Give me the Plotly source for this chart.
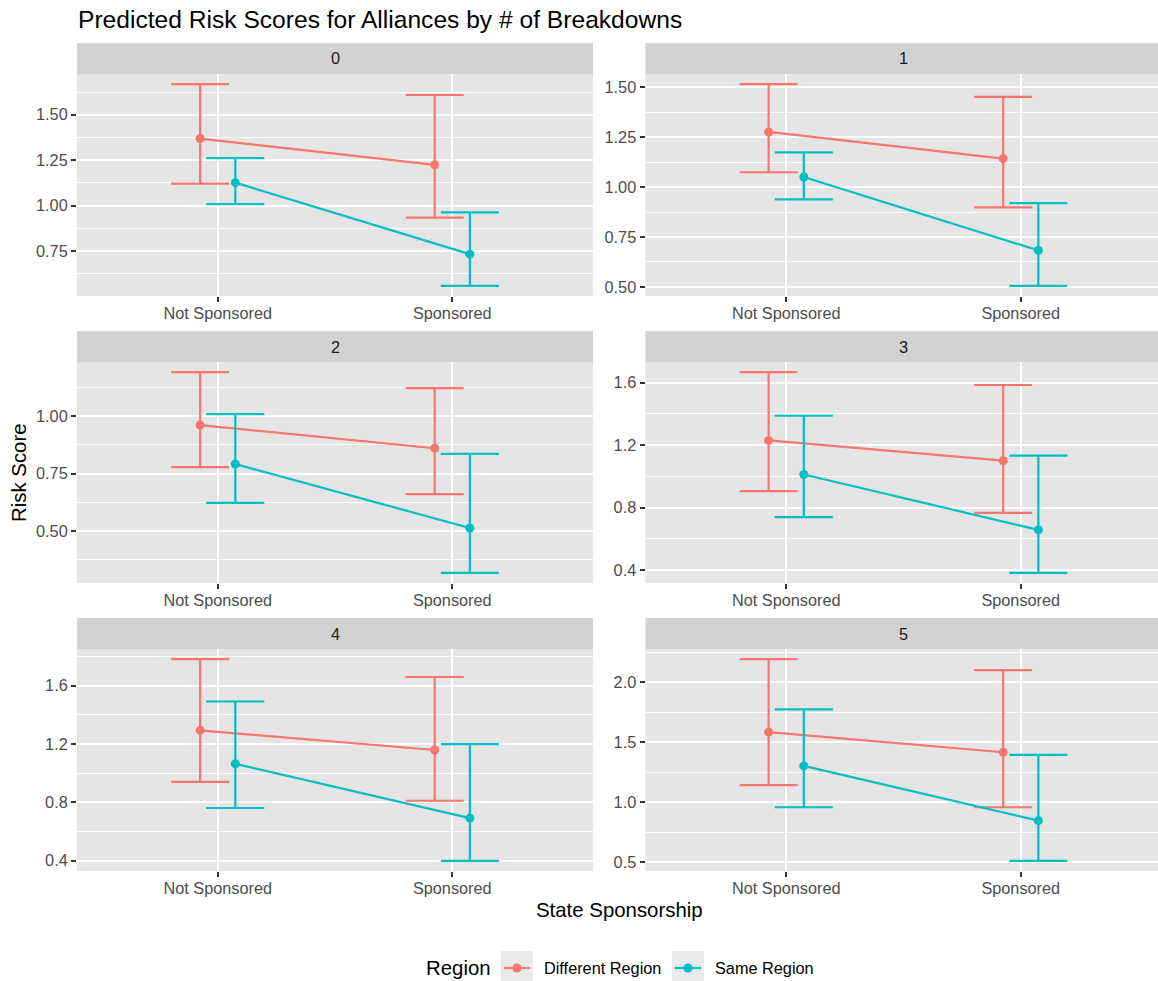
import plotly.graph_objects as go

# ---------------- data ----------------
panels = ["0", "1", "2", "3", "4", "5"]
categories = ["Not Sponsored", "Sponsored"]
groups = ["Different Region", "Same Region"]

diff_mean = [[1.369, 1.224], [1.277, 1.143], [0.961, 0.860], [1.230, 1.100], [1.294, 1.159], [1.584, 1.416]]
diff_lower = [[1.121, 0.933], [1.075, 0.899], [0.778, 0.660], [0.905, 0.766], [0.940, 0.811], [1.142, 0.958]]
diff_upper = [[1.669, 1.609], [1.517, 1.453], [1.192, 1.122], [1.668, 1.585], [1.783, 1.660], [2.192, 2.100]]

same_mean = [[1.126, 0.732], [1.051, 0.683], [0.791, 0.513], [1.012, 0.657], [1.065, 0.692], [1.302, 0.847]]
same_lower = [[1.008, 0.557], [0.939, 0.505], [0.622, 0.317], [0.738, 0.381], [0.761, 0.398], [0.958, 0.511]]
same_upper = [[1.261, 0.962], [1.175, 0.920], [1.009, 0.836], [1.388, 1.132], [1.492, 1.200], [1.774, 1.394]]

y_tick_vals = [
    [0.75, 1.00, 1.25, 1.50],
    [0.50, 0.75, 1.00, 1.25, 1.50],
    [0.50, 0.75, 1.00],
    [0.4, 0.8, 1.2, 1.6],
    [0.4, 0.8, 1.2, 1.6],
    [0.5, 1.0, 1.5, 2.0],
]
y_tick_text = [
    ["0.75", "1.00", "1.25", "1.50"],
    ["0.50", "0.75", "1.00", "1.25", "1.50"],
    ["0.50", "0.75", "1.00"],
    ["0.4", "0.8", "1.2", "1.6"],
    ["0.4", "0.8", "1.2", "1.6"],
    ["0.5", "1.0", "1.5", "2.0"],
]

# ---------------- style / layout ----------------
W, H = 1158, 981
RED, TEAL = "#F8766D", "#00BFC4"
PANEL_BG, STRIP_BG = "#E5E5E5", "#D2D2D2"
FONT = "Liberation Sans, Arial, Helvetica, sans-serif"
DODGE = 0.075

col_px = [(77, 593), (645.5, 1161.5)]
row_px = [(74, 296), (362, 583), (649, 871)]   # plot area (top, bottom)
strip_px = [(43, 74), (331, 362), (618, 649)]


def px_x(v):
    return v / W


def px_y(v):
    return 1 - v / H


fig = go.Figure()
layout = {}
shapes = []
annotations = []

for i, name in enumerate(panels):
    r, c = divmod(i, 2)
    ax = "" if i == 0 else str(i + 1)
    xa, ya = "x" + ax, "y" + ax

    series = [
        (groups[0], RED, -DODGE, diff_mean[i], diff_lower[i], diff_upper[i]),
        (groups[1], TEAL, DODGE, same_mean[i], same_lower[i], same_upper[i]),
    ]
    for gname, color, off, m, lo, hi in series:
        xs = [k + 1 + off for k in range(len(categories))]
        fig.add_trace(go.Scatter(
            x=xs, y=m, mode="lines+markers", name=gname,
            legendgroup=gname, showlegend=False,
            line=dict(color=color, width=2.2),
            marker=dict(color=color, size=9),
            error_y=dict(type="data", symmetric=False,
                         array=[h - v for h, v in zip(hi, m)],
                         arrayminus=[v - l for v, l in zip(m, lo)],
                         color=color, thickness=2.2, width=29),
            xaxis=xa, yaxis=ya, hoverinfo="skip",
        ))

    lo_all = min(diff_lower[i] + same_lower[i])
    hi_all = max(diff_upper[i] + same_upper[i])
    pad = 0.05 * (hi_all - lo_all)
    yr = [lo_all - pad, hi_all + pad]
    step = y_tick_vals[i][1] - y_tick_vals[i][0]
    minor_vals = [t + step / 2 for t in [y_tick_vals[i][0] - step] + y_tick_vals[i]]
    minor_vals = [v for v in minor_vals if yr[0] <= v <= yr[1]]

    x0, x1 = col_px[c]
    unit = (col_px[0][1] - col_px[0][0]) / 2.2
    x1c = min(x1, W)
    xr = [0.4, 0.4 + (x1c - x0) / unit]

    top, bot = row_px[r]
    layout["xaxis" + ax] = dict(
        domain=[px_x(x0), px_x(x1c)], range=xr, anchor=ya,
        tickmode="array", tickvals=[1, 2], ticktext=categories,
        showgrid=True, gridcolor="white", gridwidth=2,
        ticks="outside", ticklen=5, tickwidth=1.6, tickcolor="#333333",
        ticklabelstandoff=-3,
        tickfont=dict(size=16.3, color="#4D4D4D", family=FONT),
        zeroline=False, showline=False, fixedrange=True,
    )
    layout["yaxis" + ax] = dict(
        domain=[px_y(bot), px_y(top)], range=yr, anchor=xa,
        tickmode="array", tickvals=y_tick_vals[i], ticktext=y_tick_text[i],
        showgrid=True, gridcolor="white", gridwidth=2,
        minor=dict(tickmode="array", tickvals=minor_vals, showgrid=True,
                   gridcolor="white", gridwidth=1.1, ticks=""),
        ticks="outside", ticklen=5, tickwidth=1.6, tickcolor="#333333",
        tickfont=dict(size=16.3, color="#4D4D4D", family=FONT),
        zeroline=False, showline=False, fixedrange=True,
    )

    st, sb = strip_px[r]
    shapes.append(dict(type="rect", xref="paper", yref="paper",
                       x0=px_x(x0), x1=px_x(x1c), y0=px_y(sb), y1=px_y(st),
                       fillcolor=STRIP_BG, line=dict(width=0), layer="below"))
    annotations.append(dict(text=name, xref="paper", yref="paper",
                            x=px_x((x0 + x1) / 2), y=px_y((st + sb) / 2),
                            xanchor="center", yanchor="middle", showarrow=False,
                            font=dict(size=16.3, color="#1A1A1A", family=FONT)))

# titles
annotations.append(dict(text="Predicted Risk Scores for Alliances by # of Breakdowns",
                        xref="paper", yref="paper", x=px_x(76), y=px_y(20),
                        xanchor="left", yanchor="middle", showarrow=False,
                        font=dict(size=24.6, color="black", family=FONT)))
annotations.append(dict(text="State Sponsorship", xref="paper", yref="paper",
                        x=px_x(619), y=px_y(910), xanchor="center", yanchor="middle",
                        showarrow=False, font=dict(size=20.4, color="black", family=FONT)))
annotations.append(dict(text="Risk Score", xref="paper", yref="paper",
                        x=px_x(19), y=px_y(473), xanchor="center", yanchor="middle",
                        textangle=-90, showarrow=False,
                        font=dict(size=20.4, color="black", family=FONT)))

# ---------------- legend (drawn as guide decorations) ----------------
LEG_Y = 968
annotations.append(dict(text="Region", xref="paper", yref="paper",
                        x=px_x(424), y=px_y(LEG_Y), xanchor="left", yanchor="middle",
                        showarrow=False, font=dict(size=20.4, color="black", family=FONT)))
legend_keys = [(501, groups[0], RED), (672, groups[1], TEAL)]
for kx, label, color in legend_keys:
    shapes.append(dict(type="rect", xref="paper", yref="paper",
                       x0=px_x(kx), x1=px_x(kx + 32), y0=px_y(985), y1=px_y(951),
                       fillcolor="#EBEBEB", line=dict(width=0), layer="below"))
    shapes.append(dict(type="line", xref="paper", yref="paper",
                       x0=px_x(kx + 3), x1=px_x(kx + 29), y0=px_y(LEG_Y), y1=px_y(LEG_Y),
                       line=dict(color=color, width=2.2)))
    shapes.append(dict(type="circle", xref="paper", yref="paper",
                       x0=px_x(kx + 16 - 4.5), x1=px_x(kx + 16 + 4.5),
                       y0=px_y(LEG_Y + 4.5), y1=px_y(LEG_Y - 4.5),
                       fillcolor=color, line=dict(width=0)))
    annotations.append(dict(text=label, xref="paper", yref="paper",
                            x=px_x(kx + 41), y=px_y(LEG_Y), xanchor="left", yanchor="middle",
                            showarrow=False, font=dict(size=16.3, color="black", family=FONT)))

fig.update_layout(
    width=W, height=H,
    margin=dict(l=0, r=0, t=0, b=0),
    paper_bgcolor="white", plot_bgcolor=PANEL_BG,
    font=dict(family=FONT),
    showlegend=False,
    shapes=shapes, annotations=annotations,
    **layout,
)

fig.write_html("out.html")
